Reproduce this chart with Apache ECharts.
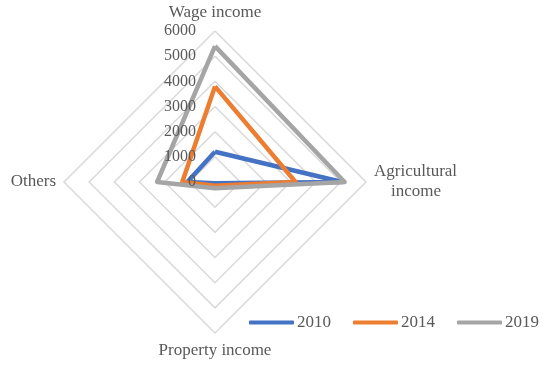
<!DOCTYPE html>
<html><head><meta charset="utf-8">
<script src="https://cdn.jsdelivr.net/npm/echarts@6/dist/echarts.min.js"></script>
<style>html,body{margin:0;padding:0;background:#fff}#c{width:550px;height:365px}</style>
</head><body><div id="c"></div>
<script>
const indicators = ['Wage income', 'Others', 'Property income', 'Agricultural\n    income'];
const years = ['2010', '2014', '2019'];
const v2010 = [1200, 1100, 50, 5050];
const v2014 = [3800, 1300, 150, 3200];
const v2019 = [5400, 2300, 250, 5150];
const colors = ['#4472C4', '#ED7D31', '#A5A5A5'];
const maxVal = 6000;

const chart = echarts.init(document.getElementById('c'));
const font = '"Liberation Serif", "Times New Roman", serif';
const baseRadar = {
  center: [215, 182],
  radius: 151,
  shape: 'polygon',
  splitNumber: 6,
  startAngle: 90,
  axisLine: { show: false },
  axisTick: { show: false },
  splitArea: { show: false }
};
chart.setOption({
  animation: false,
  color: colors,
  legend: {
    data: years,
    right: 6, top: 309,
    itemWidth: 45, itemHeight: 4, itemGap: 22,
    icon: 'roundRect',
    textStyle: { fontFamily: font, fontSize: 17, color: '#595959', padding: [0, 0, 0, -2] }
  },
  radar: [
    Object.assign({}, baseRadar, {
      z: 1,
      indicator: indicators.map(n => ({ name: n, max: maxVal, min: 0 })),
      axisName: { color: '#595959', fontFamily: font, fontSize: 17, lineHeight: 20 },
      nameGap: 8,
      splitLine: { lineStyle: { color: '#d9d9d9', width: 1.5 } },
      axisLabel: { show: false }
    }),
    Object.assign({}, baseRadar, {
      z: 5,
      indicator: indicators.map((n, i) => ({
        name: n, max: maxVal, min: 0,
        axisLabel: { show: i === 0 }
      })),
      axisName: { show: false },
      splitLine: { show: false },
      axisLabel: {
        show: true, showMinLabel: true, showMaxLabel: true,
        color: '#595959', fontFamily: font, fontSize: 16, margin: 19,
        formatter: v => String(v)
      }
    })
  ],
  series: [{
    type: 'radar',
    radarIndex: 0,
    symbol: 'none',
    lineStyle: { width: 4.5 },
    data: [
      { name: years[0], value: v2010, lineStyle: { color: colors[0], width: 4.5 } },
      { name: years[1], value: v2014, lineStyle: { color: colors[1], width: 4.5 } },
      { name: years[2], value: v2019, lineStyle: { color: colors[2], width: 4.5 } }
    ]
  }]
});
</script></body></html>
